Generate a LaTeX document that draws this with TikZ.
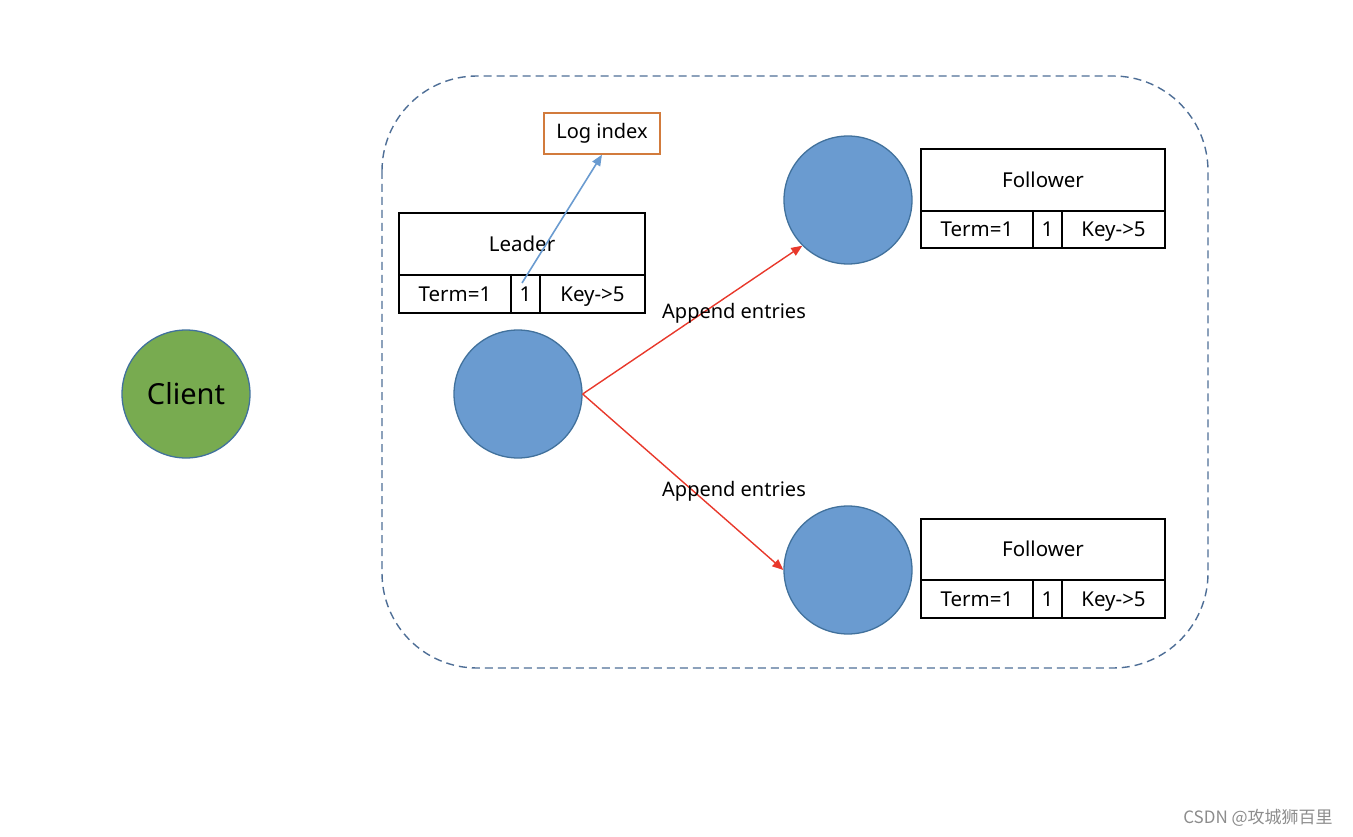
\documentclass[tikz,border=0pt]{standalone}
\usepackage{fontspec}
\setmainfont{Noto Sans}
\newfontfamily\cjk{Noto Sans CJK SC}
\usetikzlibrary{arrows.meta}
\definecolor{nodeblue}{HTML}{6A9BD0}
\definecolor{edgeblue}{HTML}{41719C}
\definecolor{clientgreen}{HTML}{78AB50}
\definecolor{logorange}{HTML}{D27B3C}
\definecolor{arrred}{HTML}{E8382B}
\definecolor{dashblue}{HTML}{4E6E96}
\begin{document}
\begin{tikzpicture}[x=1pt,y=-1pt,
  server/.style={circle,draw=edgeblue,line width=1.3pt,fill=nodeblue,minimum size=128pt,inner sep=0pt},
  cell/.style={draw=black,line width=1.3pt,inner sep=0pt,font=\fontsize{20.5}{24}\selectfont,text height=14.5pt,text depth=0pt},
  lbl/.style={font=\fontsize{20}{24}\selectfont,inner sep=0pt},
  redarr/.style={draw=arrred,line width=1.4pt,-{Triangle[length=11pt,width=9pt]}},
  bluearr/.style={draw=nodeblue,line width=1.6pt,-{Triangle[length=11pt,width=9pt]}}]
\useasboundingbox (0,0) rectangle (1353,837);
% cluster boundary
\draw[dashblue,line width=1.4pt,dash pattern=on 8pt off 5pt,rounded corners=95pt] (382,76) rectangle (1208,668);
% client
\node[server,fill=clientgreen,font=\fontsize{29}{34}\selectfont] (client) at (186,394) {Client};
% servers
\node[server] (leader) at (518,394) {};
\node[server] (f1) at (848,200) {};
\node[server] (f2) at (848,570) {};
% leader table
\node[cell,minimum width=246pt,minimum height=62pt] (ltop) at (522,244) {Leader};
\node[cell,minimum width=112pt,minimum height=38pt] (lterm) at (455,294) {Term=1};
\node[cell,minimum width=29pt,minimum height=38pt] (lone) at (525.5,294) {1};
\node[cell,minimum width=105pt,minimum height=38pt] (lkey) at (592.5,294) {Key->5};
% follower 1 table
\node[cell,minimum width=244pt,minimum height=62pt] (aTop) at (1043,180) {Follower};
\node[cell,minimum width=112pt,minimum height=37pt] (aTerm) at (977,229.5) {Term=1};
\node[cell,minimum width=29pt,minimum height=37pt] (aOne) at (1047.5,229.5) {1};
\node[cell,minimum width=103pt,minimum height=37pt] (aKey) at (1113.5,229.5) {Key->5};
% follower 2 table
\node[cell,minimum width=244pt,minimum height=61pt] (bTop) at (1043,549.5) {Follower};
\node[cell,minimum width=112pt,minimum height=38pt] (bTerm) at (977,599) {Term=1};
\node[cell,minimum width=29pt,minimum height=38pt] (bOne) at (1047.5,599) {1};
\node[cell,minimum width=103pt,minimum height=38pt] (bKey) at (1113.5,599) {Key->5};
% log index
\node[draw=logorange,line width=1.4pt,minimum width=116pt,minimum height=41pt,inner sep=0pt,font=\fontsize{20}{24}\selectfont] (logidx) at (602,133.5) {Log index};
\coordinate (lstart) at (522,283);
\draw[bluearr] (lstart) -- (logidx.south);
% append entries
\draw[redarr] (leader.east) -- (f1.225);
\draw[redarr] (leader.east) -- (f2.west);
\node[lbl] (ap1) at (734,313) {Append entries};
\node[lbl] (ap2) at (734,491) {Append entries};
% watermark
\node[font=\cjk\fontsize{17}{20}\selectfont,text=black!45,inner sep=0pt] (wm) at (1258,818) {CSDN @攻城狮百里};
\end{tikzpicture}
\end{document}
